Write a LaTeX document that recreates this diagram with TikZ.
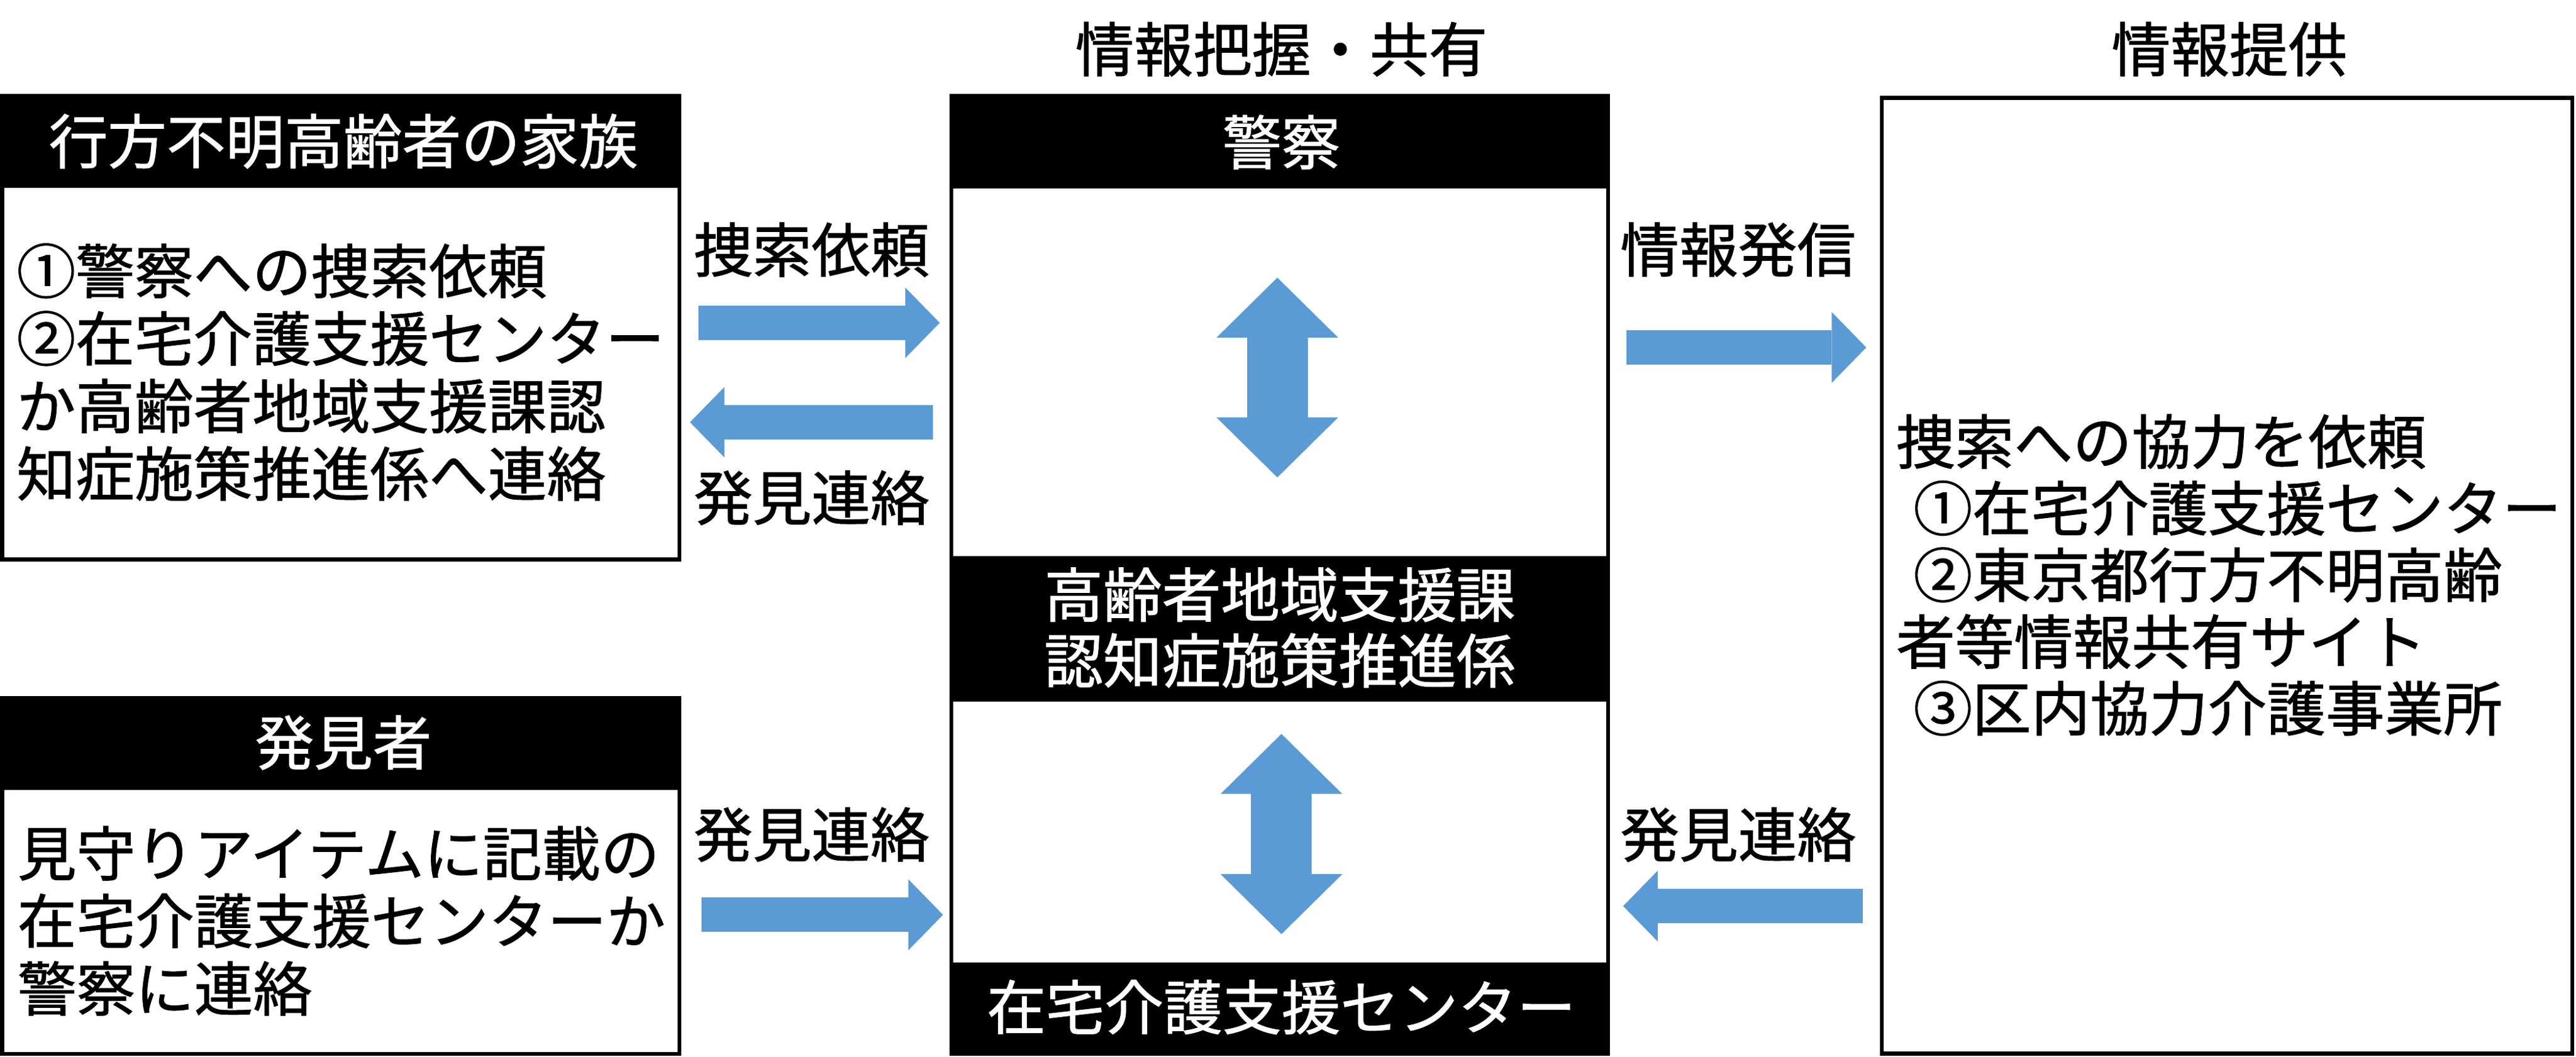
\documentclass[tikz,border=0pt]{standalone}
\usepackage{fontspec}
\usepackage{tikz}
\usetikzlibrary{arrows.meta}
\newfontfamily\jp[FakeBold=1.1]{Noto Sans CJK JP}
\definecolor{arrowblue}{RGB}{91,155,213}

\begin{document}
\begin{tikzpicture}[x=0.1mm,y=-0.1mm,
  frame/.style={draw=black,line width=0.7pt},
  band/.style={fill=black},
  txt/.style={font=\jp\fontsize{10.2pt}{11.7pt}\selectfont,inner sep=0pt},
  wtxt/.style={txt,text=white},
  body/.style={txt,align=left,anchor=west},
  barrow/.style={draw=arrowblue,line width=2.1mm,-{Triangle[length=2.1mm,width=4.3mm,line width=0pt]}},
  darrow/.style={draw=arrowblue,line width=3.7mm,{Triangle[length=3.65mm,width=7.4mm,line width=0pt]}-{Triangle[length=3.65mm,width=7.4mm,line width=0pt]}}]
\useasboundingbox (0,0) rectangle (1568,643.3);

\fill[band] (1.2,58.5) rectangle (413.5,114.5);
\draw[frame] (1.2,58.5) rectangle (413.5,340.5);
\node[wtxt] (familyhead) at (209,86) {行方不明高齢者の家族};
\node[body] (familybody) at (9.5,226.5) {①警察への捜索依頼\\②在宅介護支援センター\\か高齢者地域支援課認\\知症施策推進係へ連絡};

\fill[band] (1.2,425) rectangle (413.5,481);
\draw[frame] (1.2,425) rectangle (413.5,641.5);
\node[wtxt] (finderhead) at (209,452) {発見者};
\node[body] (finderbody) at (10,560.5) {見守りアイテムに記載の\\在宅介護支援センターか\\警察に連絡};

\node[txt] (sharetitle) at (780,30) {情報把握・共有};
\fill[band] (579,58.5) rectangle (978.8,114.6);
\fill[band] (579,338.5) rectangle (978.8,427);
\fill[band] (579,586) rectangle (978.8,641.5);
\draw[frame] (579,58.5) rectangle (978.8,641.5);
\node[wtxt] (police) at (780,86.5) {警察};
\node[wtxt,align=center,font=\jp\fontsize{10.2pt}{11.4pt}\selectfont] (section) at (779,382) {高齢者地域支援課\\認知症施策推進係};
\node[wtxt] (center) at (780,613) {在宅介護支援センター};

\node[txt] (offertitle) at (1357,30) {情報提供};
\draw[frame] (1145.5,59.5) rectangle (1565.8,641.2);
\node[body,font=\jp\fontsize{10.2pt}{11.55pt}\selectfont] (offerbody) at (1153.5,350) {捜索への協力を依頼\\\hspace*{1.05mm}①在宅介護支援センター\\\hspace*{1.05mm}②東京都行方不明高齢\\者等情報共有サイト\\\hspace*{1.05mm}③区内協力介護事業所};

\node[txt] (request) at (494,152) {捜索依頼};
\node[txt] (found1) at (494,303) {発見連絡};
\node[txt] (found2) at (494,508) {発見連絡};
\node[txt] (notify) at (1058,152) {情報発信};
\node[txt] (found3) at (1058,508) {発見連絡};

\coordinate (req0) at (425,196.5);
\coordinate (req1) at (572,196.5);
\coordinate (fa0) at (568,257);
\coordinate (fa1) at (420,257);
\coordinate (fb0) at (427,556.8);
\coordinate (fb1) at (574,556.8);
\coordinate (nt0) at (990,211.5);
\coordinate (nt1) at (1136,211.5);
\coordinate (fc0) at (1134,551.5);
\coordinate (fc1) at (988,551.5);
\coordinate (up0) at (777.5,169);
\coordinate (up1) at (777.5,290.6);
\coordinate (lo0) at (780,446.7);
\coordinate (lo1) at (780,568.6);
\draw[barrow] (req0) -- (req1);
\draw[barrow] (fa0) -- (fa1);
\draw[barrow] (fb0) -- (fb1);
\draw[barrow] (nt0) -- (nt1);
\draw[barrow] (fc0) -- (fc1);
\draw[darrow] (up0) -- (up1);
\draw[darrow] (lo0) -- (lo1);
\end{tikzpicture}
\end{document}
